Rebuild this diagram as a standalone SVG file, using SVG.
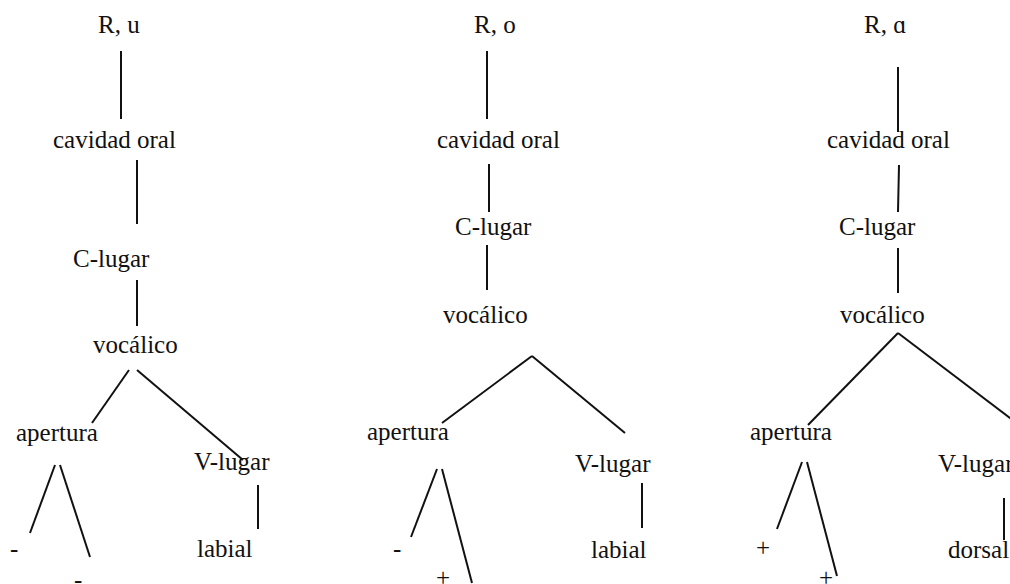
<svg xmlns="http://www.w3.org/2000/svg" width="1010" height="584" viewBox="0 0 1010 584">
<style>
text{font-family:"Times New Roman","Liberation Serif","DejaVu Serif",serif;font-size:25px;fill:#111}
.c line{stroke:#111;stroke-width:2;stroke-linecap:butt}
</style>
<rect width="1010" height="584" fill="#fff"/>
<g class="c" id="connectors">
<line x1="121" y1="51" x2="121" y2="119"/>
<line x1="137" y1="160" x2="137" y2="224"/>
<line x1="137" y1="280" x2="137" y2="326"/>
<line x1="129" y1="370" x2="92" y2="423"/>
<line x1="137" y1="370" x2="243" y2="460"/>
<line x1="55" y1="465" x2="30" y2="533"/>
<line x1="60" y1="465" x2="90" y2="557"/>
<line x1="258" y1="485" x2="258" y2="529"/>
<line x1="487" y1="51" x2="487" y2="119"/>
<line x1="489" y1="164" x2="489" y2="212"/>
<line x1="487" y1="245" x2="487" y2="290"/>
<line x1="532" y1="356" x2="442" y2="423"/>
<line x1="532" y1="356" x2="625" y2="433"/>
<line x1="437" y1="469" x2="411" y2="537"/>
<line x1="442" y1="469" x2="472" y2="583"/>
<line x1="642" y1="483" x2="642" y2="528"/>
<line x1="898" y1="67" x2="898" y2="132"/>
<line x1="899" y1="165" x2="898" y2="212"/>
<line x1="898" y1="248" x2="898" y2="293"/>
<line x1="898" y1="333" x2="808" y2="425"/>
<line x1="898" y1="333" x2="1014" y2="421"/>
<line x1="802" y1="462" x2="777" y2="529"/>
<line x1="807" y1="462" x2="837" y2="576"/>
<line x1="1004" y1="498" x2="1004" y2="540"/>
</g>
<g id="t1-root"><text x="98" y="33">R, u</text></g>
<g id="t1-cav"><text x="53" y="148">cavidad oral</text></g>
<g id="t1-clug"><text x="73" y="267">C-lugar</text></g>
<g id="t1-voc"><text x="93" y="353">vocálico</text></g>
<g id="t1-ap"><text x="16" y="441">apertura</text></g>
<g id="t1-vlug"><text x="194" y="470">V-lugar</text></g>
<g id="t1-m1"><text x="10" y="557">-</text></g>
<g id="t1-m2"><text x="74" y="588">-</text></g>
<g id="t1-lab"><text x="197" y="557">labial</text></g>
<g id="t2-root"><text x="474" y="33">R, o</text></g>
<g id="t2-cav"><text x="437" y="148">cavidad oral</text></g>
<g id="t2-clug"><text x="455" y="235">C-lugar</text></g>
<g id="t2-voc"><text x="443" y="323">vocálico</text></g>
<g id="t2-ap"><text x="367" y="440">apertura</text></g>
<g id="t2-vlug"><text x="575" y="472">V-lugar</text></g>
<g id="t2-m1"><text x="393" y="557">-</text></g>
<g id="t2-p1"><text x="436" y="586">+</text></g>
<g id="t2-lab"><text x="591" y="558">labial</text></g>
<g id="t3-root"><text x="864" y="33">R, ɑ</text></g>
<g id="t3-cav"><text x="827" y="148">cavidad oral</text></g>
<g id="t3-clug"><text x="839" y="235">C-lugar</text></g>
<g id="t3-voc"><text x="840" y="323">vocálico</text></g>
<g id="t3-ap"><text x="750" y="440">apertura</text></g>
<g id="t3-vlug"><text x="938" y="472">V-lugar</text></g>
<g id="t3-p1"><text x="756" y="556">+</text></g>
<g id="t3-p2"><text x="819" y="586">+</text></g>
<g id="t3-dor"><text x="948" y="558">dorsal</text></g>
</svg>
